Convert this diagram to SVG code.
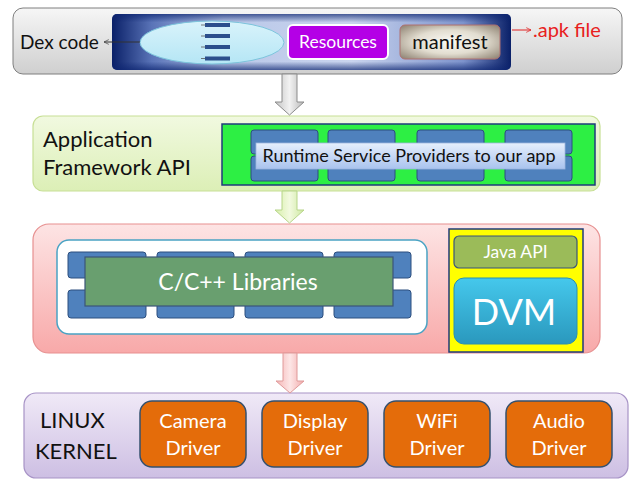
<svg xmlns="http://www.w3.org/2000/svg" width="640" height="488" viewBox="0 0 640 488">
<defs>
<style>
text{font-family:Lato,"Open Sans","Liberation Sans",sans-serif}
.w{fill:#fff}
.k{fill:#111}
.col{fill:#4f81bd;stroke:#2c4e7e;stroke-width:1}
.drv{fill:#e46c0a;stroke:#34506e;stroke-width:1.5}
</style>
<linearGradient id="gGray" x1="0" y1="0" x2="0" y2="1"><stop offset="0" stop-color="#f6f6f6"/><stop offset="1" stop-color="#cfcfcf"/></linearGradient>
<linearGradient id="gNavy" x1="0" y1="0" x2="1" y2="0"><stop offset="0" stop-color="#0a2068"/><stop offset="0.1" stop-color="#5a74b8"/><stop offset="0.28" stop-color="#b9c7e8"/><stop offset="0.6" stop-color="#c9d4ee"/><stop offset="0.88" stop-color="#7d93cc"/><stop offset="1" stop-color="#0a2068"/></linearGradient>
<linearGradient id="gNavyV" x1="0" y1="0" x2="0" y2="1"><stop offset="0" stop-color="#0c2470" stop-opacity="0.7"/><stop offset="0.15" stop-color="#0c2470" stop-opacity="0"/><stop offset="0.85" stop-color="#0c2470" stop-opacity="0"/><stop offset="1" stop-color="#0c2470" stop-opacity="0.7"/></linearGradient>
<linearGradient id="gEll" x1="0" y1="0" x2="0" y2="1"><stop offset="0" stop-color="#d9f3fb"/><stop offset="1" stop-color="#b5e6f5"/></linearGradient>
<radialGradient id="gMan" cx="0.5" cy="0.5" r="0.7"><stop offset="0" stop-color="#fbfaf5"/><stop offset="0.5" stop-color="#e2ddd0"/><stop offset="1" stop-color="#8a7e6e"/></radialGradient>
<linearGradient id="gApp" x1="0" y1="0" x2="0" y2="1"><stop offset="0" stop-color="#f1f9e0"/><stop offset="1" stop-color="#dcefb6"/></linearGradient>
<linearGradient id="gRun" x1="0" y1="0" x2="0" y2="1"><stop offset="0" stop-color="#e6effc"/><stop offset="1" stop-color="#a9c3ee"/></linearGradient>
<linearGradient id="gPink" x1="0" y1="0" x2="0" y2="1"><stop offset="0" stop-color="#fde4e4"/><stop offset="1" stop-color="#f8a9a9"/></linearGradient>
<linearGradient id="gDvm" x1="0" y1="0" x2="0" y2="1"><stop offset="0" stop-color="#45c8ec"/><stop offset="1" stop-color="#2a98bd"/></linearGradient>
<linearGradient id="gLav" x1="0" y1="0" x2="0" y2="1"><stop offset="0" stop-color="#f0e9f7"/><stop offset="1" stop-color="#cdbfe3"/></linearGradient>
<linearGradient id="gA1" x1="0" y1="0" x2="1" y2="0"><stop offset="0" stop-color="#c4c4c4"/><stop offset="0.5" stop-color="#f2f2f2"/><stop offset="1" stop-color="#b8b8b8"/></linearGradient>
<linearGradient id="gA2" x1="0" y1="0" x2="1" y2="0"><stop offset="0" stop-color="#d7efaa"/><stop offset="0.5" stop-color="#f2fadf"/><stop offset="1" stop-color="#cde8a0"/></linearGradient>
<linearGradient id="gA3" x1="0" y1="0" x2="1" y2="0"><stop offset="0" stop-color="#f5b5b5"/><stop offset="0.5" stop-color="#fde6e6"/><stop offset="1" stop-color="#f2abab"/></linearGradient>
<marker id="mk" viewBox="0 0 10 10" refX="9" refY="5" markerWidth="6" markerHeight="6" orient="auto"><path d="M1,1 L9,5 L1,9" fill="none" stroke="#444" stroke-width="1.2"/></marker>
<marker id="mr" viewBox="0 0 10 10" refX="9" refY="5" markerWidth="6" markerHeight="6" orient="auto"><path d="M1,1 L9,5 L1,9" fill="none" stroke="#e02020" stroke-width="1.2"/></marker>
</defs>
<rect width="640" height="488" fill="#fff"/>

<g id="apk-file">
<rect x="13" y="8" width="609" height="66" rx="10" fill="url(#gGray)" stroke="#7f7f7f" stroke-width="1"/>
<rect x="112" y="14" width="399" height="56" rx="5" fill="url(#gNavy)"/>
<rect x="112" y="14" width="399" height="56" rx="5" fill="url(#gNavyV)"/>
<text x="20" y="49" font-size="19" class="k">Dex code</text>
<text x="533" y="37" font-size="20" fill="#e82020">.apk file</text>
</g>
<g id="dex-code">
<ellipse cx="212" cy="42.5" rx="72" ry="21.5" fill="url(#gEll)" stroke="#7cc4dc" stroke-width="1"/>
<g fill="#2b4f8c">
<rect x="205" y="23" width="25" height="4"/><rect x="205" y="34" width="25" height="4"/><rect x="205" y="45" width="25" height="4"/><rect x="205" y="56.5" width="25" height="4"/>
</g>
<g stroke="#555" stroke-width="0.8"><path d="M201 25h4M201 36h4M201 47h4M201 58.5h4"/></g>
</g>
<g id="resources">
<rect x="288" y="25" width="100" height="34" rx="5" fill="#b400e6" stroke="#fff" stroke-width="2"/>
<text x="338" y="48" font-size="17.5" class="w" text-anchor="middle">Resources</text>
</g>
<g id="manifest">
<rect x="400" y="25" width="100" height="34" rx="5" fill="url(#gMan)" stroke="#b07070" stroke-width="1"/>
<text x="450" y="48.5" font-size="20" class="k" text-anchor="middle">manifest</text>
</g>

<g id="application-framework">
<rect x="33" y="116" width="567" height="75" rx="10" fill="url(#gApp)" stroke="#c7df95" stroke-width="1.2"/>
<text x="43" y="147" font-size="22" class="k">Application</text>
<text x="43" y="175" font-size="22" class="k">Framework API</text>
<rect x="222" y="124" width="373" height="61" fill="#2def44" stroke="#1f3b7a" stroke-width="1.5"/>
<g class="col">
<rect x="251" y="130" width="67" height="24" rx="3"/><rect x="251" y="156" width="67" height="25" rx="3"/>
<rect x="328" y="130" width="67" height="24" rx="3"/><rect x="328" y="156" width="67" height="25" rx="3"/>
<rect x="417" y="130" width="67" height="24" rx="3"/><rect x="417" y="156" width="67" height="25" rx="3"/>
<rect x="505" y="130" width="67" height="24" rx="3"/><rect x="505" y="156" width="67" height="25" rx="3"/>
</g>
<rect x="256" y="143" width="309" height="26" fill="url(#gRun)" stroke="#9fb6de" stroke-width="0.8"/>
<text x="409" y="161.5" font-size="18" class="k" text-anchor="middle">Runtime Service Providers to our app</text>
</g>

<g id="native-libraries">
<rect x="33" y="224" width="567" height="129" rx="16" fill="url(#gPink)" stroke="#e79090" stroke-width="1.2"/>
<rect x="57" y="240" width="370" height="94" rx="12" fill="#fff" stroke="#4aa3c4" stroke-width="1.5"/>
<g class="col">
<rect x="68" y="252" width="78" height="26" rx="3"/><rect x="68" y="290" width="78" height="28" rx="3"/>
<rect x="157" y="252" width="77" height="26" rx="3"/><rect x="157" y="290" width="77" height="28" rx="3"/>
<rect x="245" y="252" width="78" height="26" rx="3"/><rect x="245" y="290" width="78" height="28" rx="3"/>
<rect x="334" y="252" width="77" height="26" rx="3"/><rect x="334" y="290" width="77" height="28" rx="3"/>
</g>
<rect x="85" y="257" width="308" height="49" fill="#699f6f" stroke="#3b5578" stroke-width="1.2"/>
<text x="238" y="290" font-size="23" class="w" text-anchor="middle">C/C++ Libraries</text>
</g>
<g id="dalvik-vm">
<rect x="449" y="229" width="134" height="123" fill="#ffff00" stroke="#1f3b7a" stroke-width="1.5"/>
<rect x="454" y="236" width="123" height="32" rx="5" fill="#9bbb59" stroke="#3b5578" stroke-width="1.2"/>
<text x="515.5" y="258" font-size="17.5" class="w" text-anchor="middle">Java API</text>
<rect x="454" y="278" width="123" height="66" rx="10" fill="url(#gDvm)" stroke="#2a8fb0" stroke-width="1"/>
<text x="514" y="325" font-size="36" class="w" text-anchor="middle">DVM</text>
</g>

<g id="linux-kernel">
<rect x="24" y="393" width="604" height="85" rx="12" fill="url(#gLav)" stroke="#a793c6" stroke-width="1.2"/>
<text x="40" y="428" font-size="22" class="k">LINUX</text>
<text x="35" y="459" font-size="22" class="k">KERNEL</text>
<g id="camera-driver"><rect x="140" y="401" width="106" height="66" rx="12" class="drv"/>
<text x="193" y="428" font-size="20" class="w" text-anchor="middle">Camera</text><text x="193" y="455" font-size="20" class="w" text-anchor="middle">Driver</text></g>
<g id="display-driver"><rect x="262" y="401" width="106" height="66" rx="12" class="drv"/>
<text x="315" y="428" font-size="20" class="w" text-anchor="middle">Display</text><text x="315" y="455" font-size="20" class="w" text-anchor="middle">Driver</text></g>
<g id="wifi-driver"><rect x="384" y="401" width="106" height="66" rx="12" class="drv"/>
<text x="437" y="428" font-size="20" class="w" text-anchor="middle">WiFi</text><text x="437" y="455" font-size="20" class="w" text-anchor="middle">Driver</text></g>
<g id="audio-driver"><rect x="506" y="401" width="106" height="66" rx="12" class="drv"/>
<text x="559" y="428" font-size="20" class="w" text-anchor="middle">Audio</text><text x="559" y="455" font-size="20" class="w" text-anchor="middle">Driver</text></g>
</g>

<g id="connectors">
<polygon points="282,74 297,74 297,102 304,102 289.5,115 275,102 282,102" fill="url(#gA1)" stroke="#8c8c8c" stroke-width="1"/>
<polygon points="282,191 297,191 297,210 304,210 289.5,223 275,210 282,210" fill="url(#gA2)" stroke="#b7d58a" stroke-width="1"/>
<polygon points="283,353 297,353 297,381 304,381 290,393 276,381 283,381" fill="url(#gA3)" stroke="#df9a9a" stroke-width="1"/>
<line x1="140" y1="42" x2="104" y2="42" stroke="#333" stroke-width="1" marker-end="url(#mk)"/>
<line x1="512" y1="30" x2="531" y2="30" stroke="#e02020" stroke-width="1" marker-end="url(#mr)"/>
</g>
</svg>
